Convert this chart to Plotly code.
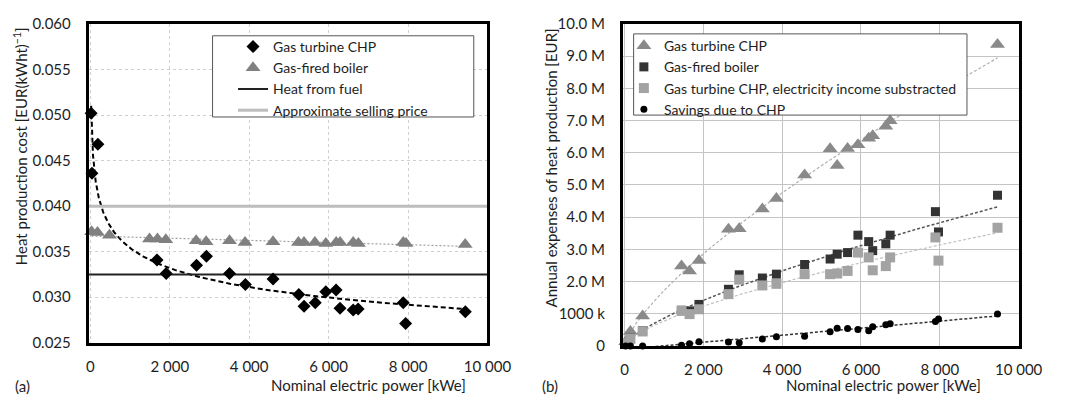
import numpy as np
import plotly.graph_objects as go

# ---------------- (a) heat production cost ----------------
chp_power_a = [20, 40, 190, 1678, 1910, 2674, 2924, 3505, 3904, 4601, 5249, 5382,
               5664, 5930, 6188, 6287, 6620, 6744, 7880, 7940, 9443]
chp_cost = [0.0502, 0.0436, 0.0468, 0.0341, 0.0326, 0.0335, 0.0345, 0.0326, 0.0314,
            0.0320, 0.0303, 0.0290, 0.0294, 0.0306, 0.0308, 0.0288, 0.0286, 0.0287,
            0.0294, 0.0271, 0.0284]

boiler_power_a = [30, 180, 480, 1490, 1690, 1900, 2665, 2915, 3505, 3895, 4600, 5240,
                  5380, 5655, 5930, 6190, 6290, 6620, 6750, 7880, 7950, 9440]
boiler_cost = [0.0372, 0.0371, 0.0368, 0.0364, 0.0364, 0.0363, 0.0362, 0.0361, 0.0362,
               0.0360, 0.0361, 0.0360, 0.0360, 0.0360, 0.0359, 0.0360, 0.0360, 0.0360,
               0.0359, 0.0360, 0.0359, 0.0358]

heat_from_fuel = 0.0325
selling_price = 0.040

x_ticks = [0, 2000, 4000, 6000, 8000, 10000]
x_tick_text = ["0", "2 000", "4 000", "6 000", "8 000", "10 000"]
y_ticks_a = [0.025, 0.030, 0.035, 0.040, 0.045, 0.050, 0.055, 0.060]
y_tick_text_a = ["0.025", "0.030", "0.035", "0.040", "0.045", "0.050", "0.055", "0.060"]

# ---------------- (b) annual expenses ----------------
power_b = [30, 150, 460, 1447, 1651, 1890, 2638, 2911, 3498, 3855, 4570, 5217, 5396,
           5660, 5923, 6196, 6298, 6630, 6740, 7889, 7966, 9464]
chp_expense = [0.13e6, 0.45e6, 0.93e6, 2.48e6, 2.33e6, 2.65e6, 3.62e6, 3.64e6, 4.25e6,
               4.58e6, 5.31e6, 6.12e6, 5.60e6, 6.13e6, 6.25e6, 6.45e6, 6.53e6, 6.82e6,
               6.99e6, 7.90e6, 8.05e6, 9.36e6]
boiler_expense = [0.07e6, 0.24e6, 0.47e6, 1.11e6, 1.09e6, 1.29e6, 1.76e6, 2.21e6,
                  2.11e6, 2.23e6, 2.53e6, 2.70e6, 2.85e6, 2.90e6, 3.44e6, 3.24e6,
                  2.96e6, 3.17e6, 3.44e6, 4.17e6, 3.54e6, 4.68e6]
chp_net_expense = [0.07e6, 0.22e6, 0.45e6, 1.09e6, 0.99e6, 1.14e6, 1.61e6, 2.06e6,
                   1.88e6, 1.93e6, 2.23e6, 2.23e6, 2.25e6, 2.33e6, 2.90e6, 2.75e6,
                   2.35e6, 2.48e6, 2.75e6, 3.37e6, 2.65e6, 3.67e6]
savings = [0.0, 0.0, 0.0, 0.02e6, 0.07e6, 0.13e6, 0.12e6, 0.10e6, 0.22e6, 0.29e6,
           0.30e6, 0.44e6, 0.55e6, 0.54e6, 0.51e6, 0.47e6, 0.60e6, 0.66e6, 0.69e6,
           0.76e6, 0.84e6, 0.99e6]

y_ticks_b = [i * 1e6 for i in range(11)]
y_tick_text_b = ["0", "1000 k", "2.0 M", "3.0 M", "4.0 M", "5.0 M", "6.0 M", "7.0 M",
                 "8.0 M", "9.0 M", "10.0 M"]

FONT = "Lato"
TEXT = "#1e1e1e"
W, H = 1067, 403


def power_trend(x, y, n=300):
    """Least-squares power-law fit y = a*x^b over the positive points,
    sampled from the smallest to the largest x of those points."""
    x = np.asarray(x, float)
    y = np.asarray(y, float)
    keep = (x > 0) & (y > 0)
    x, y = x[keep], y[keep]
    b, ln_a = np.polyfit(np.log(x), np.log(y), 1)
    xs = np.geomspace(x.min(), x.max(), n)
    return xs, np.exp(ln_a) * xs ** b


def linear_trend(x, y):
    x = np.asarray(x, float)
    y = np.asarray(y, float)
    k, c = np.polyfit(x, y, 1)
    xs = np.array([x.min(), x.max()])
    return xs, k * xs + c


x_range_a = [-40, 10000]
x_range_b = [-40, 10000]

fig = go.Figure()

# (a) trend lines
tx, ty = power_trend(chp_power_a, chp_cost)
fig.add_trace(go.Scatter(x=tx, y=ty, mode="lines", showlegend=False, hoverinfo="skip",
                         line=dict(color="black", width=2, dash="5px,3px"),
                         xaxis="x", yaxis="y"))
tx, ty = linear_trend(boiler_power_a, boiler_cost)
fig.add_trace(go.Scatter(x=tx, y=ty, mode="lines", showlegend=False, hoverinfo="skip",
                         line=dict(color="#a0a0a0", width=1.2, dash="2px,2px"),
                         xaxis="x", yaxis="y"))

# (a) reference levels
fig.add_trace(go.Scatter(x=[x_range_a[0], x_range_a[1]], y=[heat_from_fuel] * 2,
                         mode="lines", name="Heat from fuel", legend="legend", legendrank=3,
                         line=dict(color="#222222", width=2), xaxis="x", yaxis="y"))
fig.add_trace(go.Scatter(x=[x_range_a[0], x_range_a[1]], y=[selling_price] * 2,
                         mode="lines", name="Approximate selling price", legend="legend",
                         legendrank=4,
                         line=dict(color="#bdbdbd", width=3), xaxis="x", yaxis="y"))

# (a) markers
fig.add_trace(go.Scatter(x=boiler_power_a, y=boiler_cost, mode="markers",
                         name="Gas-fired boiler", legend="legend", legendrank=2,
                         cliponaxis=False,
                         marker=dict(symbol="triangle-up", size=13, color="#808080"),
                         xaxis="x", yaxis="y"))
fig.add_trace(go.Scatter(x=chp_power_a, y=chp_cost, mode="markers",
                         name="Gas turbine CHP", legend="legend", legendrank=1,
                         cliponaxis=False,
                         marker=dict(symbol="diamond", size=10, color="black"),
                         xaxis="x", yaxis="y"))

# (b) trend lines: power law for the expenses, linear for the savings
trend_b = [(chp_expense, "#b0b0b0", 1.2, power_trend),
           (boiler_expense, "#555555", 1.5, power_trend),
           (chp_net_expense, "#c0c0c0", 1.2, power_trend),
           (savings, "#333333", 1.5, linear_trend)]
for ys, col, w, fit in trend_b:
    tx, ty = fit(power_b, ys)
    fig.add_trace(go.Scatter(x=tx, y=ty, mode="lines", showlegend=False, hoverinfo="skip",
                             line=dict(color=col, width=w, dash="3px,2px"),
                             xaxis="x2", yaxis="y2"))

# (b) markers
fig.add_trace(go.Scatter(x=power_b, y=chp_expense, mode="markers", name="Gas turbine CHP",
                         legend="legend2", cliponaxis=False,
                         marker=dict(symbol="triangle-up", size=13, color="#8a8a8a"),
                         xaxis="x2", yaxis="y2"))
fig.add_trace(go.Scatter(x=power_b, y=boiler_expense, mode="markers", name="Gas-fired boiler",
                         legend="legend2", cliponaxis=False,
                         marker=dict(symbol="square", size=9, color="#333333"),
                         xaxis="x2", yaxis="y2"))
fig.add_trace(go.Scatter(x=power_b, y=chp_net_expense, mode="markers",
                         name="Gas turbine CHP, electricity income substracted",
                         legend="legend2", cliponaxis=False,
                         marker=dict(symbol="square", size=10, color="#a3a3a3"),
                         xaxis="x2", yaxis="y2"))
fig.add_trace(go.Scatter(x=power_b, y=savings, mode="markers", name="Savings due to CHP",
                         legend="legend2", cliponaxis=False,
                         marker=dict(symbol="circle", size=7, color="black"),
                         xaxis="x2", yaxis="y2"))

axis_common = dict(showline=True, linecolor="black", linewidth=3, mirror=True,
                   zeroline=False, ticks="", tickfont=dict(family=FONT, size=15, color=TEXT))

legend_common = dict(xanchor="left", yanchor="top", bgcolor="rgba(0,0,0,0)", borderwidth=0,
                     font=dict(family=FONT, size=14, color=TEXT), traceorder="normal")

fig.update_layout(
    width=W, height=H,
    margin=dict(l=0, r=0, t=0, b=0),
    paper_bgcolor="white", plot_bgcolor="white",
    font=dict(family=FONT, size=15, color=TEXT),
    xaxis=dict(domain=[88 / W, 497 / W], range=x_range_a, tickvals=x_ticks,
               ticktext=x_tick_text, showgrid=True, gridcolor="#cfcfcf", griddash="dot",
               ticklabelstandoff=8, anchor="y", **axis_common),
    yaxis=dict(domain=[1 - 348.3 / H, 1 - 14.7 / H], range=[0.025, 0.060],
               tickvals=y_ticks_a, ticktext=y_tick_text_a, showgrid=True,
               gridcolor="#cfcfcf", griddash="dot", ticklabelstandoff=12, anchor="x",
               **axis_common),
    xaxis2=dict(domain=[636 / W, 1042 / W], range=x_range_b, tickvals=x_ticks,
                ticktext=x_tick_text, showgrid=True, gridcolor="#c4c4c4",
                ticklabelstandoff=8, anchor="y2", **axis_common),
    yaxis2=dict(domain=[1 - 351.7 / H, 1 - 14.5 / H], range=[0, 10e6],
                tickvals=y_ticks_b, ticktext=y_tick_text_b, showgrid=True,
                gridcolor="#c4c4c4", ticklabelstandoff=12, anchor="x2", **axis_common),
    legend=dict(x=236 / W, y=1 - 22 / H, **legend_common),
    legend2=dict(x=637 / W, y=1 - 21 / H, **legend_common),
)

# white framed panels behind each legend
for x0, y0, x1, y1 in [(215, 27, 483, 112), (647, 25, 989, 110)]:
    fig.add_shape(type="rect", xref="paper", yref="paper", layer="above",
                  x0=x0 / W, x1=x1 / W, y0=1 - y1 / H, y1=1 - y0 / H,
                  fillcolor="white", line=dict(color="#555555", width=1))

annotations = [
    dict(text="Heat production cost [EUR(kWht)<sup>−1</sup>]", x=18 / W, y=1 - 143 / H,
         textangle=-90),
    dict(text="Annual expenses of heat production [EUR]", x=562 / W, y=1 - 165 / H,
         textangle=-90),
    dict(text="Nominal electric power [kWe]", x=375 / W, y=1 - 393 / H),
    dict(text="Nominal electric power [kWe]", x=903 / W, y=1 - 393 / H),
    dict(text="(a)", x=20 / W, y=1 - 394 / H),
    dict(text="(b)", x=561 / W, y=1 - 394 / H),
]
for a in annotations:
    fig.add_annotation(xref="paper", yref="paper", showarrow=False,
                       xanchor="center", yanchor="middle",
                       font=dict(family=FONT, size=15, color=TEXT), **a)

fig.write_html("out.html")
